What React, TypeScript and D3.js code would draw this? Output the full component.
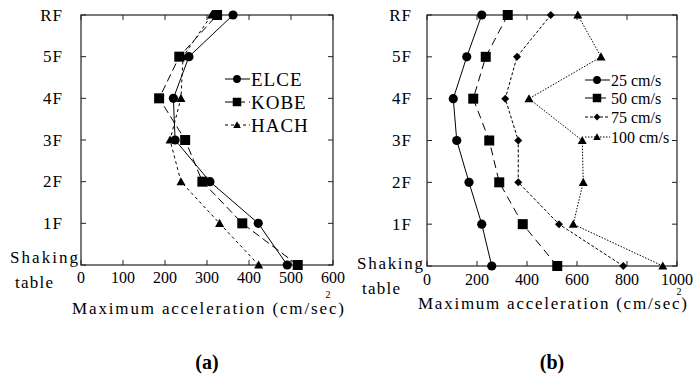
import React from "react";
import * as d3 from "d3";

const levels = ["Shaking", "1F", "2F", "3F", "4F", "5F", "RF"];
const ticksA = [0, 100, 200, 300, 400, 500, 600];
const ticksB = [0, 200, 400, 600, 800, 1000];

const elce = [491, 422, 307, 224, 220, 257, 362];
const kobe = [516, 384, 289, 248, 186, 234, 324];
const hach = [423, 330, 238, 212, 238, 243, 311];

const v25 = [259, 219, 168, 119, 105, 159, 219];
const v50 = [521, 383, 289, 249, 185, 235, 323];
const v75 = [785, 528, 365, 365, 313, 360, 495];
const v100 = [943, 585, 625, 621, 408, 696, 603];

const seriesA = [
  { name: "ELCE", values: elce, marker: "circle", dash: "none" },
  { name: "KOBE", values: kobe, marker: "square", dash: "8,4" },
  { name: "HACH", values: hach, marker: "triangle", dash: "3,3" },
];
const seriesB = [
  { name: "25 cm/s", values: v25, marker: "circle", dash: "none" },
  { name: "50 cm/s", values: v50, marker: "square", dash: "8,5" },
  { name: "75 cm/s", values: v75, marker: "diamond", dash: "3,2" },
  { name: "100 cm/s", values: v100, marker: "triangle", dash: "1.5,1.5" },
];

const FONT = "Liberation Serif";

function T(props: any) {
  return <text fontFamily={FONT} fill="#000" {...props} />;
}

function Marker({ type, x, y, s = 1 }: { type: string; x: number; y: number; s?: number }) {
  if (type === "circle") return <circle cx={x} cy={y} r={4.6 * s} fill="#000" />;
  if (type === "square") {
    const h = 5 * s;
    return <rect x={x - h} y={y - h} width={2 * h} height={2 * h} fill="#000" />;
  }
  if (type === "triangle") {
    const h = 4.5 * s;
    return <path d={`M${x},${y - h}L${x + h},${y + h * 0.8}L${x - h},${y + h * 0.8}Z`} fill="#000" />;
  }
  const h = 4 * s;
  return <path d={`M${x},${y - h}L${x + h},${y}L${x},${y + h}L${x - h},${y}Z`} fill="#000" />;
}

type PanelProps = {
  left: number;
  right: number;
  top: number;
  bottom: number;
  max: number;
  ticks: number[];
  series: { name: string; values: number[]; marker: string; dash: string }[];
  legend: { x: number; ys: number[]; fs: number; s: number };
  shakingY: number;
  tableY: number;
  labelRight: number;
  shakingX: [number, number];
  tableX: [number, number];
  tickY: number;
  title: { x0: number; x1: number; y: number; supX: number; supY: number };
  letter: string;
  letterY: number;
};

function Panel(p: PanelProps) {
  const x = d3.scaleLinear().domain([0, p.max]).range([p.left, p.right]);
  const y = d3.scalePoint<string>().domain(levels).range([p.bottom, p.top]);
  const line = d3
    .line<[string, number]>()
    .x((d) => x(d[1]))
    .y((d) => y(d[0]) as number);
  const tl = 5;
  return (
    <g>
      <rect x={p.left} y={p.top} width={p.right - p.left} height={p.bottom - p.top} fill="none" stroke="#222" strokeWidth={1.2} />
      {p.ticks.map((t) => (
        <g key={"xt" + t}>
          <line x1={x(t)} x2={x(t)} y1={p.bottom} y2={p.bottom - tl} stroke="#222" />
          <line x1={x(t)} x2={x(t)} y1={p.top} y2={p.top + tl} stroke="#222" />
          <T x={x(t)} y={p.tickY} fontSize={16} textAnchor="middle" dominantBaseline="central">
            {t}
          </T>
        </g>
      ))}
      {levels.map((l) => (
        <g key={"yt" + l}>
          <line x1={p.left} x2={p.left + tl} y1={y(l)} y2={y(l)} stroke="#222" />
          <line x1={p.right} x2={p.right - tl} y1={y(l)} y2={y(l)} stroke="#222" />
          {l !== "Shaking" && (
            <T x={p.labelRight} y={y(l)} fontSize={17} textAnchor="end" dominantBaseline="central" letterSpacing={1}>
              {l}
            </T>
          )}
        </g>
      ))}
      <T x={p.shakingX[0]} y={p.shakingY} fontSize={17} dominantBaseline="central" textLength={p.shakingX[1] - p.shakingX[0]} lengthAdjust="spacing">
        Shaking
      </T>
      <T x={p.tableX[0]} y={p.tableY} fontSize={17} dominantBaseline="central" textLength={p.tableX[1] - p.tableX[0]} lengthAdjust="spacing">
        table
      </T>
      {p.series.map((s) => {
        const pts: [string, number][] = levels.map((l, i) => [l, s.values[i]]);
        return (
          <g key={s.name}>
            <path d={line(pts) || ""} fill="none" stroke="#000" strokeWidth={1} strokeDasharray={s.dash} />
            {pts.map((d, i) => (
              <Marker key={i} type={s.marker} x={x(d[1])} y={y(d[0]) as number} />
            ))}
          </g>
        );
      })}
      {p.series.map((s, i) => (
        <g key={"lg" + s.name}>
          <line x1={p.legend.x} x2={p.legend.x + 25} y1={p.legend.ys[i]} y2={p.legend.ys[i]} stroke="#000" strokeDasharray={s.dash} />
          <Marker type={s.marker} x={p.legend.x + 12} y={p.legend.ys[i]} s={p.legend.s} />
          <T x={p.legend.x + 26} y={p.legend.ys[i]} fontSize={p.legend.fs} dominantBaseline="central" letterSpacing={p.legend.fs > 17 ? 1 : 0}>
            {s.name}
          </T>
        </g>
      ))}
      <T x={p.title.x0} y={p.title.y} fontSize={17} dominantBaseline="central" textLength={p.title.x1 - p.title.x0} lengthAdjust="spacing">
        Maximum acceleration (cm/sec)
      </T>
      <T x={p.title.supX} y={p.title.supY} fontSize={10} textAnchor="middle" dominantBaseline="central">
        2
      </T>
      <T x={(p.left + p.right) / 2} y={p.letterY} fontSize={20} fontWeight="bold" textAnchor="middle" dominantBaseline="central">
        {p.letter}
      </T>
    </g>
  );
}

export default function App() {
  return (
    <svg width={695} height={387} style={{ position: "absolute", left: 0, top: 0, background: "#fff" }}>
      <rect width={695} height={387} fill="#fff" />
      <Panel
        left={81}
        right={333}
        top={15}
        bottom={265}
        max={600}
        ticks={ticksA}
        series={seriesA}
        legend={{ x: 225, ys: [79, 102, 125], fs: 19, s: 0.85 }}
        shakingY={257}
        tableY={282}
        labelRight={63}
        shakingX={[10, 78]}
        tableX={[15, 53]}
        tickY={277}
        title={{ x0: 72, x1: 344, y: 308, supX: 328, supY: 294 }}
        letter="(a)"
        letterY={362}
      />
      <Panel
        left={427}
        right={677}
        top={15}
        bottom={266}
        max={1000}
        ticks={ticksB}
        series={seriesB}
        legend={{ x: 585, ys: [80, 98, 117, 137], fs: 16, s: 0.85 }}
        shakingY={263}
        tableY={288}
        labelRight={412}
        shakingX={[357, 423]}
        tableX={[362, 400]}
        tickY={279}
        title={{ x0: 418, x1: 687, y: 303, supX: 679, supY: 291 }}
        letter="(b)"
        letterY={362}
      />
    </svg>
  );
}
